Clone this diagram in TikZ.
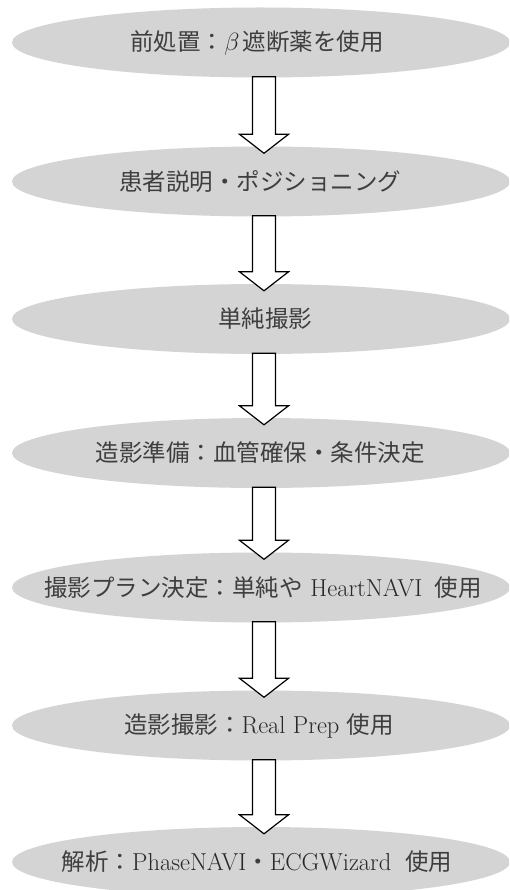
\documentclass[tikz,border=0pt]{standalone}
\usepackage{fontspec}
\newfontfamily\jpfont{Noto Sans CJK JP}
\usetikzlibrary{calc,shapes.geometric}
\definecolor{ellgray}{RGB}{212,212,212}
\definecolor{txtgray}{RGB}{40,40,40}
\definecolor{jpgray}{RGB}{62,62,62}
\newcommand\J[1]{{\jpfont\color{jpgray}\fontsize{23.5}{28}\selectfont #1}}
\newcommand\blockarr[2]{%
  \draw[blockarrow] ($(#1.south)+(-8.5,-1)$) -- ($(#2.north)+(-8.5,-12)$)
    -- ($(#2.north)+(-21.5,-12)$) -- ($(#2.north)+(3,7)$)
    -- ($(#2.north)+(27.5,-12)$) -- ($(#2.north)+(14.5,-12)$)
    -- ($(#1.south)+(14.5,-1)$) -- cycle;}
\begin{document}
\begin{tikzpicture}[x=1pt,y=-1pt,
  stepell/.style={ellipse, fill=ellgray, draw=none, inner sep=0pt,
    minimum width=498pt, minimum height=70pt},
  steplabel/.style={text=txtgray, inner sep=0pt,
    font=\fontsize{24.5}{28}\selectfont},
  blockarrow/.style={draw=black, fill=white, line width=1.2pt, line join=miter}]
\useasboundingbox (0,0) rectangle (509,890);
\clip (0,0) rectangle (509,890);
\fill[white] (0,0) rectangle (509,890);
\node[stepell] (e1) at (261,42.5) {};
\node[stepell] (e2) at (261,181.5) {};
\node[stepell] (e3) at (261,319) {};
\node[stepell] (e4) at (261,453) {};
\node[stepell] (e5) at (261,587.5) {};
\node[stepell] (e6) at (261,725.5) {};
\node[stepell] (e7) at (261,862) {};
\node[steplabel] (t1) at (257,42.5) {\J{前処置：}$\beta$\hspace{3pt}\J{遮断薬を使用}};
\node[steplabel] (t2) at (260,181.5) {\J{患者説明・ポジショニング}};
\node[steplabel] (t3) at (265,319) {\J{単純撮影}};
\node[steplabel] (t4) at (260,453) {\J{造影準備：血管確保・条件決定}};
\node[steplabel] (t5) at (263,587.5) {\J{撮影プラン決定：単純や} HeartNAVI\hspace{0.5em}\J{使用}};
\node[steplabel] (t6) at (259,725.5) {\J{造影撮影：}Real Prep \J{使用}};
\node[steplabel] (t7) at (257,862) {\J{解析：}PhaseNAVI\J{・}ECGWizard\hspace{14pt}\J{使用}};
\blockarr{e1}{e2}
\blockarr{e2}{e3}
\blockarr{e3}{e4}
\blockarr{e4}{e5}
\blockarr{e5}{e6}
\blockarr{e6}{e7}
\end{tikzpicture}
\end{document}
